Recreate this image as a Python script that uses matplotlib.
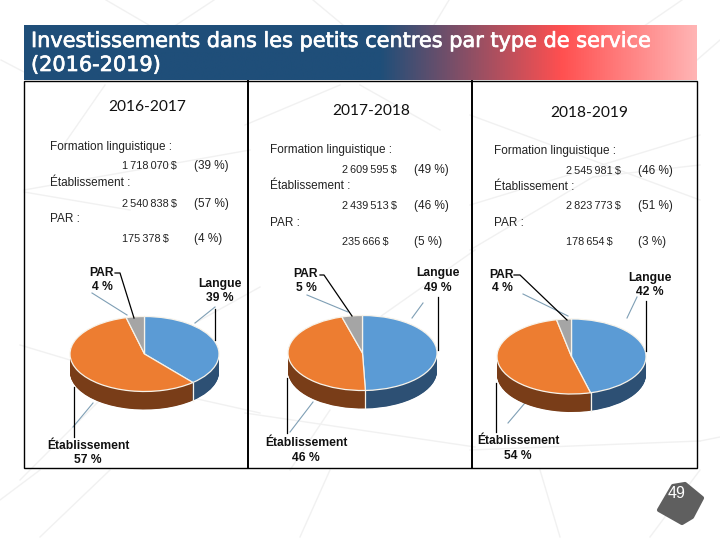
import numpy as np
import matplotlib
matplotlib.use("Agg")
import matplotlib.pyplot as plt
import matplotlib.patheffects as pe
from matplotlib.colors import LinearSegmentedColormap
from matplotlib.patches import Polygon, Rectangle

title_lines = ["Investissements dans les petits centres par type de service", "(2016-2019)"]
years = ["2016-2017", "2017-2018", "2018-2019"]
service_labels = ["Formation linguistique :", "Établissement :", "PAR :"]
pie_names = ["Langue", "Établissement", "PAR"]

amounts_1 = [1718070, 2540838, 175378]
amounts_2 = [2609595, 2439513, 235666]
amounts_3 = [2545981, 2823773, 178654]
shares_1 = [39, 57, 4]
shares_2 = [49, 46, 5]
shares_3 = [46, 51, 3]
label_pct_1 = [39, 57, 4]
label_pct_2 = [49, 46, 5]
label_pct_3 = [42, 54, 4]
page_number = "49"

top_colors = ["#5b9bd5", "#ed7d31", "#a5a5a5"]
side_colors = ["#2d5074", "#793d18", "#666666"]
FONT = "Liberation Sans"


def money(v):
    return f"{v:,}".replace(",", "\u2009") + "\u2009$"


fig = plt.figure(figsize=(7.2, 5.4), dpi=100, facecolor="white")
bg = fig.add_axes([0, 0, 1, 1])
bg.set_axis_off()

# faint decorative background lines
faint = [((106,0),(166,35)),((214,0),(161,35)),((313,0),(355,35)),((449,0),(428,35)),((682,0),(631,35)),
         ((20,345),(70,360)),((20,480),(100,400)),((193,398),(260,413)),((260,287),(195,323)),
         ((60,150),(105,85)),((24,190),(250,150)),((130,210),(24,192)),((245,413),(475,447)),
         ((475,250),(340,345)),((330,410),(290,470)),((470,450),(700,441)),((470,115),(700,200)),
         ((470,205),(700,135)),((470,250),(593,177)),((593,177),(700,165)),((245,125),(340,85)),
         ((360,85),(440,130)),((40,537),(110,470)),((300,537),(330,470)),((560,537),(540,470)),
         ((0,500),(40,470)),((700,441),(720,437)),((700,470),(650,537)),((1,60),(24,72)),((697,60),(720,40))]
for a, b in faint:
    bg.plot([a[0], b[0]], [a[1], b[1]], color="#f1f1f1", lw=1.0, zorder=1)

# heading band
cmap = LinearSegmentedColormap.from_list("band", [(0, "#1f4e79"), (0.53, "#1f4e79"), (0.80, "#ff5050"), (1, "#ffb4b4")])
bg.imshow(np.linspace(0, 1, 512).reshape(1, -1), cmap=cmap, extent=(24, 697, 80, 25), aspect="auto", zorder=2)
stroke = [pe.withStroke(linewidth=0.5, foreground="white")]
bg.text(31, 41, title_lines[0], color="white", fontsize=15.0, family="DejaVu Sans", va="center", zorder=3, path_effects=stroke)
bg.text(31, 65, title_lines[1], color="white", fontsize=15.0, family="DejaVu Sans", va="center", zorder=3, path_effects=stroke)

# table frame
bg.add_patch(Rectangle((24, 81), 673, 387, fill=False, ec="black", lw=1.0, zorder=3))
for x in (248, 472):
    bg.plot([x, x], [81, 468], color="black", lw=1.4, zorder=3)

# upper text blocks
blocks = [
    dict(amounts=amounts_1, shares=label_pct_1, left=50, ys=[147, 166, 183, 204, 219, 239], year_x=147, year_y=107),
    dict(amounts=amounts_2, shares=shares_2, left=270, ys=[150, 170, 186, 206, 223, 242], year_x=371, year_y=111),
    dict(amounts=amounts_3, shares=shares_3, left=494, ys=[151, 171, 187, 206, 223, 242], year_x=589, year_y=113),
]
for yr, bl in zip(years, blocks):
    bg.text(bl["year_x"], bl["year_y"], yr, family="Lato", fontsize=11.2, ha="center", va="center", color="#111111", zorder=4)
    for i in range(3):
        bg.text(bl["left"], bl["ys"][2*i], service_labels[i], family=FONT, fontsize=8.5, va="center", color="#222222", zorder=4)
        bg.text(bl["left"]+72, bl["ys"][2*i+1], money(bl["amounts"][i]), family=FONT, fontsize=7.8, va="center", color="#222222", zorder=4)
        bg.text(bl["left"]+144, bl["ys"][2*i+1], f"({bl['shares'][i]} %)", family=FONT, fontsize=8.5, va="center", color="#222222", zorder=4)

# pies: labels, leaders
pies = [
    dict(vals=amounts_1, pct=label_pct_1, cx=144.5, cy=354,
         lab=[(220,284,298),(88,446,460),(102,273,287)],
         black=[[(215,309),(215,340)],[(74,437),(74,387)],[(115,273),(120,273),(134,318)]],
         thin=[[(195,323),(215,307)],[(73,427),(93,403)],[(92,293),(127,315)]]),
    dict(vals=amounts_2, pct=label_pct_2, cx=362.5, cy=353,
         lab=[(438,273,288),(306,443,458),(306,274,288)],
         black=[[(438,297),(438,350)],[(287,433),(287,378)],[(320,275),(324,275),(352,316)]],
         thin=[[(412,318),(423,303)],[(290,432),(313,402)],[(307,295),(348,312)]]),
    dict(vals=amounts_3, pct=label_pct_3, cx=571.5, cy=356.5,
         lab=[(650,278,292),(518,441,456),(502,275,288)],
         black=[[(646,301),(646,351)],[(496,432),(496,383)],[(514,275),(520,275),(567,320)]],
         thin=[[(627,318),(637,297)],[(508,423),(530,397)],[(523,294),(568,316)]]),
]
RX, RY, DEPTH = 74.5, 37.5, 18.0
for p in pies:
    for seg in p["thin"]:
        xs, ys = zip(*seg)
        bg.plot(xs, ys, color="#7f9fb5", lw=0.8, zorder=3)
    for name, pct, (lx, y1, y2) in zip(pie_names, p["pct"], p["lab"]):
        bg.text(lx, y1, name, family=FONT, fontsize=8.7, fontweight="bold", ha="center", va="center", color="#111111", zorder=4)
        bg.text(lx, y2, f"{pct} %", family=FONT, fontsize=8.7, fontweight="bold", ha="center", va="center", color="#111111", zorder=4)

    # pie axes, in pie units: one unit is RX across and RY down
    left, right = p["cx"] - RX - 3, p["cx"] + RX + 3
    top, bottom = p["cy"] - RY - 3, p["cy"] + RY + DEPTH + 3
    ax = fig.add_axes([left/720, 1 - bottom/540, (right-left)/720, (bottom-top)/540], zorder=2)
    ax.patch.set_alpha(0)
    d_units = DEPTH / RY
    for d in np.linspace(d_units, 0.01, 40):
        ax.pie(p["vals"], colors=side_colors, startangle=90, counterclock=False, center=(0, -d),
               wedgeprops=dict(linewidth=0), radius=1)
    ax.pie(p["vals"], colors=top_colors, startangle=90, counterclock=False, center=(0, 0), radius=1,
           wedgeprops=dict(linewidth=0.9, edgecolor="#f7f3ea"))
    theta = 2*np.pi*np.cumsum(p["vals"])/np.sum(p["vals"])
    for t in theta:
        if np.cos(t) < 0:
            ax.plot([np.sin(t)]*2, [np.cos(t), np.cos(t)-d_units], color="#f7f3ea", lw=0.9)
    ax.set_aspect("auto")
    ax.set_xlim(-(RX+3)/RX, (RX+3)/RX)
    ax.set_ylim(-(RY+DEPTH+3)/RY, (RY+3)/RY)
    ax.set_axis_off()

# overlay for black leaders (above the pies)
fg = fig.add_axes([0, 0, 1, 1], zorder=5)
fg.set_axis_off()
fg.patch.set_alpha(0)
for p in pies:
    for seg in p["black"]:
        xs, ys = zip(*seg)
        fg.plot(xs, ys, color="black", lw=0.9)

# page badge
fg.add_patch(Polygon([(673,486),(685,484),(702,498),(692,517),(682,523),(659,510)], closed=True,
                     fc="#5f5f5f", ec="#5f5f5f", lw=3, joinstyle="round"))
fg.text(677, 494, page_number, color="white", family=FONT, fontsize=11.5, ha="center", va="center")

for a in (bg, fg):
    a.set_xlim(0, 720)
    a.set_ylim(540, 0)

fig.savefig("out.png", dpi=100)
